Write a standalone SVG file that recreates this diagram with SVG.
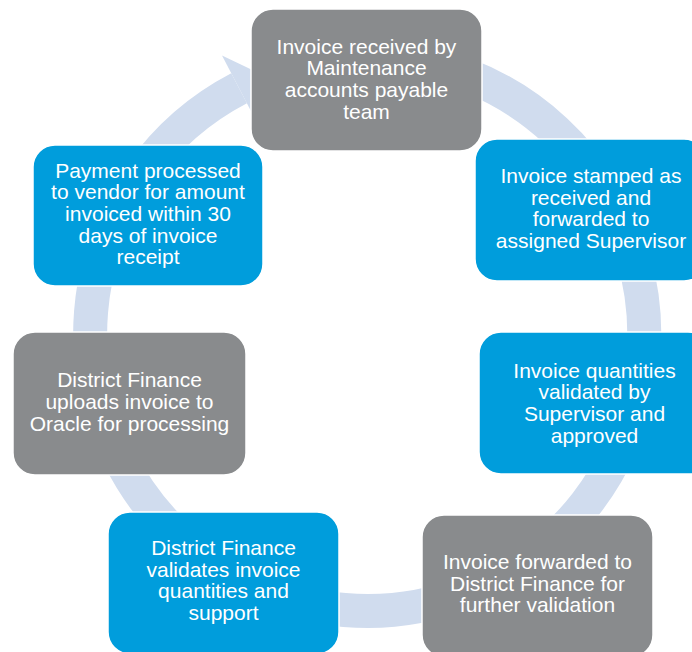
<svg xmlns="http://www.w3.org/2000/svg" width="692" height="652" viewBox="0 0 692 652">
  <style>
    .ring { fill: none; stroke: #D0DCEE; stroke-width: 34; }
    .head { fill: #D0DCEE; }
    .gray { fill: #898B8D; stroke: #FFFFFF; stroke-width: 1.5; }
    .blue { fill: #009DDC; stroke: #FFFFFF; stroke-width: 1.5; }
    .lbl { font-family: "Liberation Sans", Arial, sans-serif; font-size: 21px; fill: #FFFFFF; text-anchor: middle; }
  </style>
  <rect width="692" height="652" fill="#FFFFFF"/>

  <!-- circular flow arrow behind the steps -->
  <g id="connectors">
    <path class="ring" d="M 295.3 66.4 A 277 277 0 1 1 239.1 88.3"/>
    <polygon class="head" points="222.0,55.5 265.5,76.3 256.2,121.1"/>
  </g>

  <g id="step1">
    <rect class="gray" x="251" y="9" width="231" height="142" rx="22"/>
    <text class="lbl"><tspan x="366.5" y="53.5">Invoice received by</tspan><tspan x="366.5" y="75.2">Maintenance</tspan><tspan x="366.5" y="96.9">accounts payable</tspan><tspan x="366.5" y="118.6">team</tspan></text>
  </g>

  <g id="step2">
    <rect class="blue" x="475" y="139" width="231" height="142" rx="22"/>
    <text class="lbl"><tspan x="591" y="183">Invoice stamped as</tspan><tspan x="591" y="204.7">received and</tspan><tspan x="591" y="226.4">forwarded to</tspan><tspan x="591" y="248.1">assigned Supervisor</tspan></text>
  </g>

  <g id="step3">
    <rect class="blue" x="479" y="332" width="231" height="142" rx="22"/>
    <text class="lbl"><tspan x="594.5" y="377.5">Invoice quantities</tspan><tspan x="594.5" y="399.2">validated by</tspan><tspan x="594.5" y="420.9">Supervisor and</tspan><tspan x="594.5" y="442.6">approved</tspan></text>
  </g>

  <g id="step4">
    <rect class="gray" x="422" y="515" width="231" height="142" rx="22"/>
    <text class="lbl"><tspan x="537.5" y="569">Invoice forwarded to</tspan><tspan x="537.5" y="590.7">District Finance for</tspan><tspan x="537.5" y="612.4">further validation</tspan></text>
  </g>

  <g id="step5">
    <rect class="blue" x="108" y="512" width="231" height="142" rx="22"/>
    <text class="lbl"><tspan x="223.5" y="555">District Finance</tspan><tspan x="223.5" y="576.7">validates invoice</tspan><tspan x="223.5" y="598.4">quantities and</tspan><tspan x="223.5" y="620.1">support</tspan></text>
  </g>

  <g id="step6">
    <rect class="gray" x="13" y="332" width="233" height="143" rx="22"/>
    <text class="lbl"><tspan x="129.5" y="387">District Finance</tspan><tspan x="129.5" y="409">uploads invoice to</tspan><tspan x="129.5" y="431">Oracle for processing</tspan></text>
  </g>

  <g id="step7">
    <rect class="blue" x="33" y="145" width="230" height="141" rx="22"/>
    <text class="lbl"><tspan x="148" y="177.5">Payment processed</tspan><tspan x="148" y="199.2">to vendor for amount</tspan><tspan x="148" y="220.9">invoiced within 30</tspan><tspan x="148" y="242.6">days of invoice</tspan><tspan x="148" y="264.3">receipt</tspan></text>
  </g>
</svg>
